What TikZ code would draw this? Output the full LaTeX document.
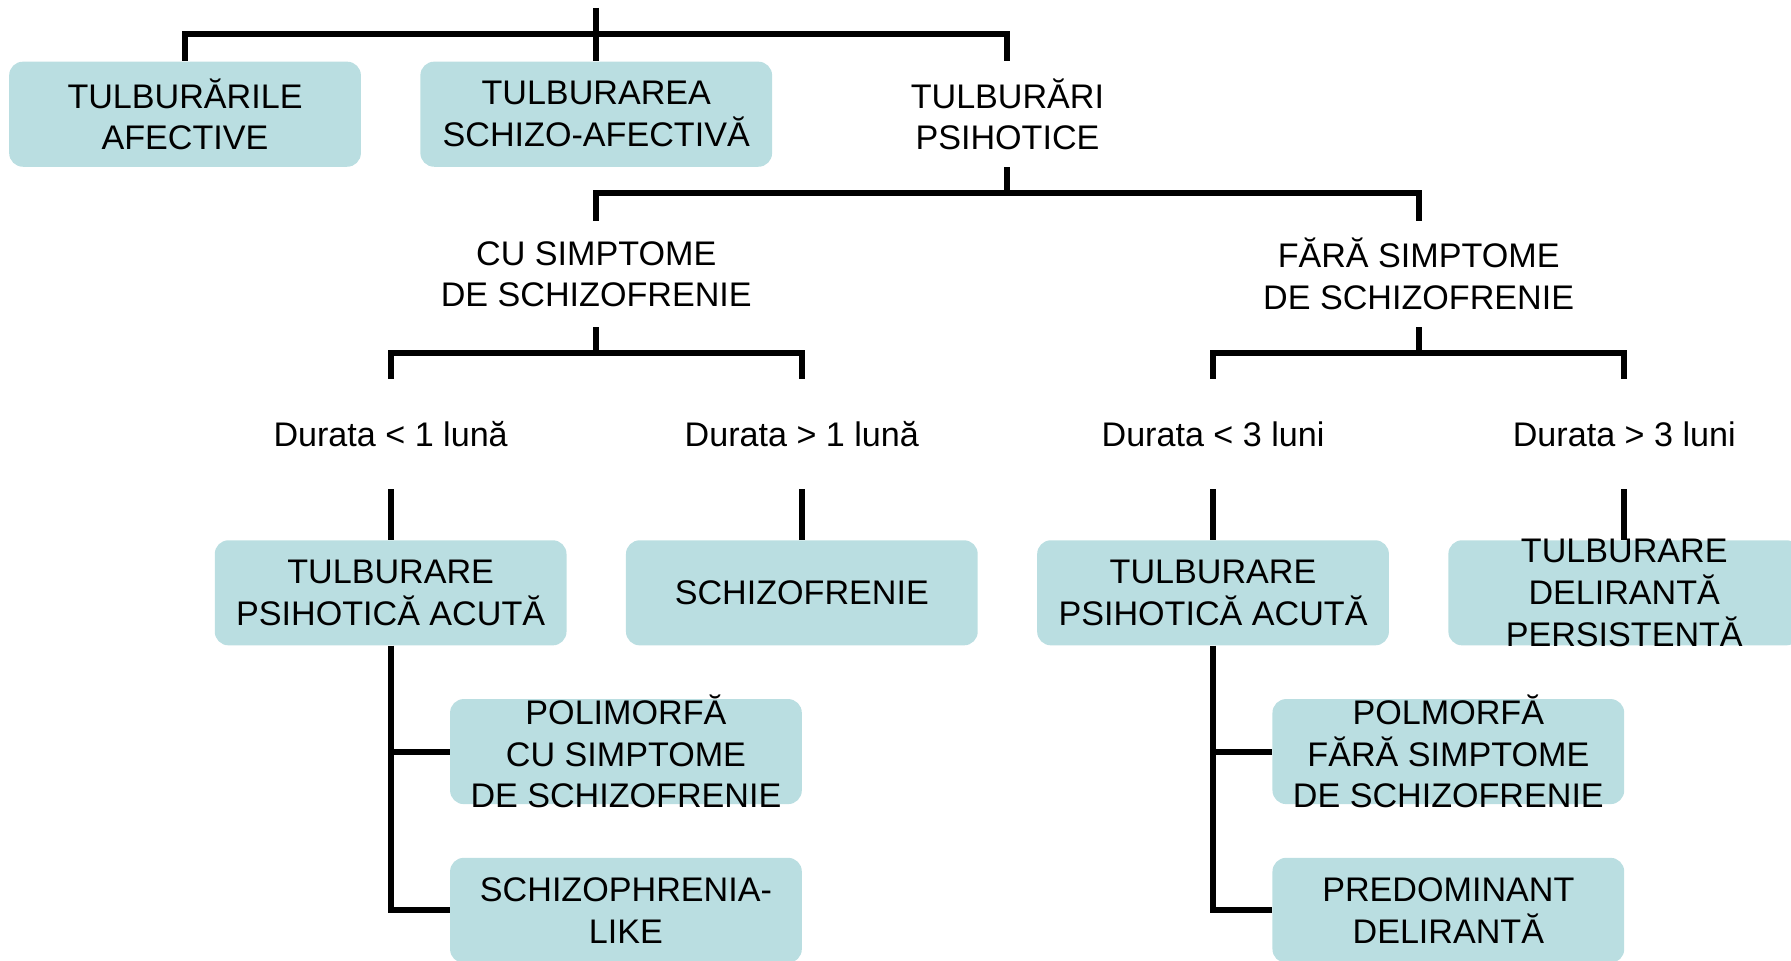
\documentclass[tikz,border=0pt]{standalone}
\usepackage{fontspec}
\setmainfont{Liberation Sans}
\usepackage{xcolor}
\usepackage{tikz}
\definecolor{celeste}{HTML}{BADEE1}

\begin{document}
\begin{tikzpicture}[x=0.02cm,y=-0.02cm,
    caseta/.style={fill=celeste, rounded corners=0.24cm, minimum width=6.16cm, minimum height=1.84cm,
        align=center, font=\fontsize{17}{20.8}\selectfont},
    scris/.style={align=center, minimum width=6.16cm, minimum height=1.84cm, font=\fontsize{17}{20.8}\selectfont},
    linie/.style={line width=3pt}]
    \useasboundingbox (0,0) rectangle (1568,841);

    % primo livello
    \coordinate (radacina) at (522,7);
    \coordinate (bus1) at (522,30);
    \node[caseta] (afective) at (162,100) {TULBURĂRILE\\AFECTIVE};
    \node[caseta] (schizoaf) at (522,100) {TULBURAREA\\SCHIZO-AFECTIVĂ};
    \node[scris]  (psihotice) at (882,100) {TULBURĂRI\\PSIHOTICE};
    \draw[linie] (radacina) -- (bus1);
    \draw[linie] (bus1) -| (afective.north);
    \draw[linie] (bus1) -| (schizoaf.north);
    \draw[linie] (bus1) -| (psihotice.north);

    % secondo livello
    \node[scris] (cusimpt) at (522,240) {CU SIMPTOME\\DE SCHIZOFRENIE};
    \node[scris] (farasimpt) at (1242,240) {FĂRĂ SIMPTOME\\DE SCHIZOFRENIE};
    \draw[linie] (psihotice.south) -- ++(0,23) coordinate (bus2);
    \draw[linie] (bus2) -| (cusimpt.north);
    \draw[linie] (bus2) -| (farasimpt.north);

    % durata
    \node[scris, minimum height=1.92cm] (dur1) at (342,380) {Durata < 1 lună};
    \node[scris, minimum height=1.92cm] (dur2) at (702,380) {Durata > 1 lună};
    \node[scris, minimum height=1.92cm] (dur3) at (1062,380) {Durata < 3 luni};
    \node[scris, minimum height=1.92cm] (dur4) at (1422,380) {Durata > 3 luni};
    \draw[linie] (cusimpt.south) -- ++(0,23) coordinate (bus3);
    \draw[linie] (bus3) -| (dur1.north);
    \draw[linie] (bus3) -| (dur2.north);
    \draw[linie] (farasimpt.south) -- ++(0,23) coordinate (bus4);
    \draw[linie] (bus4) -| (dur3.north);
    \draw[linie] (bus4) -| (dur4.north);

    % diagnosi
    \node[caseta] (acuta1) at (342,519) {TULBURARE\\PSIHOTICĂ ACUTĂ};
    \node[caseta] (schizo) at (702,519) {SCHIZOFRENIE};
    \node[caseta] (acuta2) at (1062,519) {TULBURARE\\PSIHOTICĂ ACUTĂ};
    \node[caseta] (delir) at (1422,519) {};
    \node[scris] at (delir) {TULBURARE\\DELIRANTĂ\\PERSISTENTĂ};
    \draw[linie] (dur1.south) -- (acuta1.north);
    \draw[linie] (dur2.south) -- (schizo.north);
    \draw[linie] (dur3.south) -- (acuta2.north);
    \draw[linie] (dur4.south) -- (delir.north);

    % forme
    \node[caseta] (polim1) at (548,658) {};
    \node[scris] at (polim1) {POLIMORFĂ\\CU SIMPTOME\\DE SCHIZOFRENIE};
    \node[caseta] (schlike) at (548,797) {SCHIZOPHRENIA-\\LIKE};
    \node[caseta] (polim2) at (1268,658) {};
    \node[scris] at (polim2) {POLMORFĂ\\FĂRĂ SIMPTOME\\DE SCHIZOFRENIE};
    \node[caseta] (predom) at (1268,797) {PREDOMINANT\\DELIRANTĂ};
    \draw[linie] (acuta1.south) |- (polim1.west);
    \draw[linie] (acuta1.south) |- (schlike.west);
    \draw[linie] (acuta2.south) |- (polim2.west);
    \draw[linie] (acuta2.south) |- (predom.west);
\end{tikzpicture}
\end{document}
